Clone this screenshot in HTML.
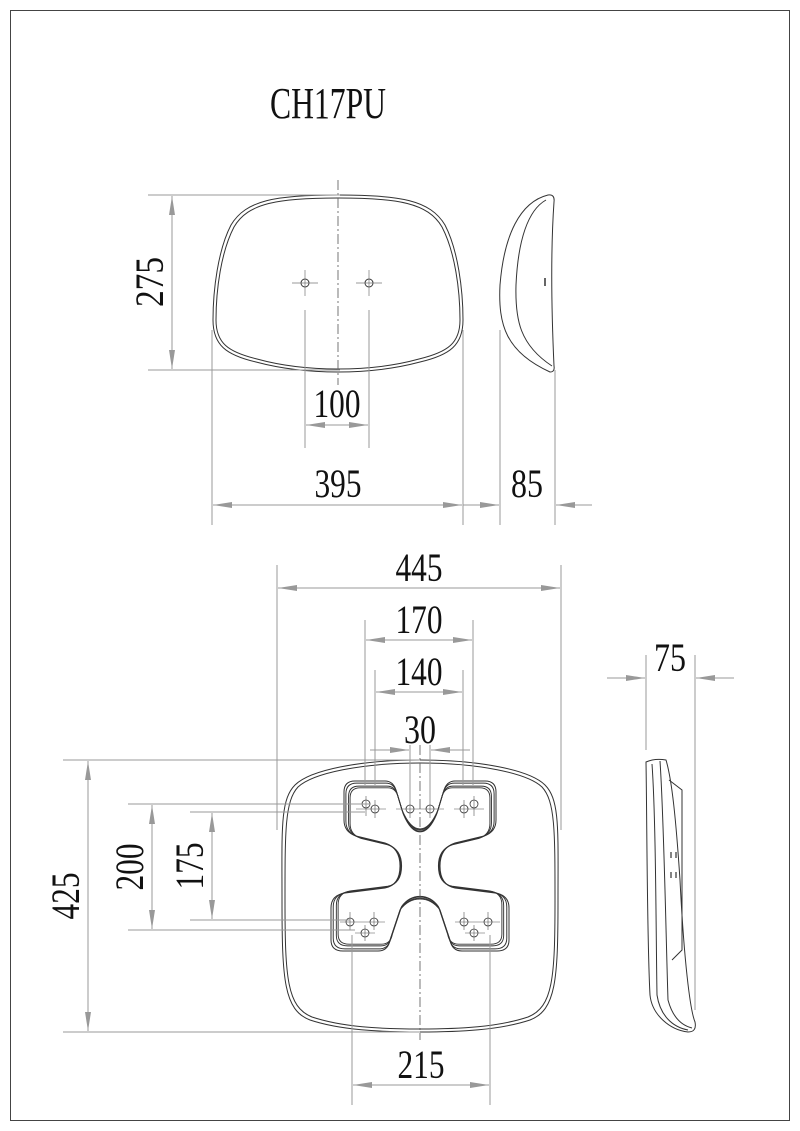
<!DOCTYPE html><html><head><style>body{margin:0;background:#fff}svg{display:block}text{font-family:"Liberation Serif",serif;fill:#111}</style></head><body>
<svg width="800" height="1131" viewBox="0 0 800 1131" xmlns="http://www.w3.org/2000/svg">
<defs>
<marker id="a" markerWidth="20" markerHeight="8" refX="19" refY="4" orient="auto" markerUnits="userSpaceOnUse"><path d="M0,1 L19,4 L0,7 Z" fill="#999"/></marker>
</defs>
<rect x="10.5" y="10.5" width="779" height="1110" fill="none" stroke="#444" stroke-width="1"/>
<text x="328" y="118" font-size="44" text-anchor="middle" textLength="116" lengthAdjust="spacingAndGlyphs">CH17PU</text>
<g fill="none" stroke="#333" stroke-width="1">
<path d="M338,195 C400,195 430,200 445,225 C458,250 463,290 463,320 C463,345 450,355 420,362 C390,370 360,372 338,372 C316,372 286,370 256,362 C226,355 213,345 213,320 C213,290 218,250 231,225 C246,200 276,195 338,195 Z"/>
<path d="M338,198 C398,198 428,203 442,227 C455,252 460,290 460,320 C460,343 448,352 419,359 C390,367 360,369 338,369 C316,369 286,367 257,359 C228,352 216,343 216,320 C216,290 221,252 234,227 C248,203 278,198 338,198 Z"/>
<circle cx="305" cy="283" r="4"/><circle cx="369" cy="283" r="4"/>
<path d="M292,283h26M305,270v26M356,283h26M369,270v26" stroke="#777" stroke-width=".7"/>
<path d="M548,195 C520,202 504,235 500,285 C498,325 506,352 550,372 Q555,372 554,366 C551,300 551,245 554,202 Q555,194 548,195 Z"/>
<path d="M546,200 C528,210 518,240 516,285 C515,320 520,345 552,366"/>
<path d="M545,278v8" stroke-width="1.5"/>
<path d="M420,760 C480,760 530,770 545,785 C560,800 558,830 558,900 C558,980 556,1010 530,1020 C500,1030 460,1032 420,1032 C380,1032 340,1030 310,1020 C284,1010 282,980 282,900 C282,830 280,800 295,785 C310,770 360,760 420,760 Z"/>
<path d="M420,763 C478,763 527,773 542,787 C555,801 555,830 555,900 C555,978 553,1007 528,1017 C498,1027 460,1029 420,1029 C380,1029 342,1027 312,1017 C287,1007 285,978 285,900 C285,830 285,801 298,787 C313,773 362,763 420,763 Z"/>
<g id="x"><path d="M355,781 L385,781 Q393,781 396,790 L402,810 Q410,829 420,829 Q430,829 438,810 L444,790 Q447,781 455,781 L485,781 Q496,781 496,792 L496,820 Q496,832 484,836 L455,843 Q440,848 440,866 Q440,885 455,888 L495,893 Q509,895 509,908 L509,940 Q509,951 497,951 L462,951 Q452,951 450,940 L440,910 Q432,899 420,899 Q408,899 400,910 L390,940 Q388,951 378,951 L343,951 Q331,951 331,940 L331,908 Q331,895 345,893 L385,888 Q400,885 400,866 Q400,848 385,843 L356,836 Q344,832 344,820 L344,792 Q344,781 355,781 Z"/></g>
<use href="#x" transform="translate(420,866) scale(0.975) translate(-420,-866)"/>
<use href="#x" transform="translate(420,866) scale(0.94) translate(-420,-866)"/>
<use href="#x" transform="translate(420,866) scale(0.92) translate(-420,-866)"/>
<g stroke-width=".8"><circle cx="366" cy="804" r="4"/><circle cx="375" cy="809" r="4"/><circle cx="410" cy="809" r="4"/><circle cx="430" cy="809" r="4"/><circle cx="464" cy="809" r="4"/><circle cx="474" cy="804" r="4"/>
<circle cx="350" cy="922" r="4"/><circle cx="374" cy="922" r="4"/><circle cx="365" cy="933" r="4"/><circle cx="464" cy="922" r="4"/><circle cx="488" cy="922" r="4"/><circle cx="474" cy="933" r="4"/></g>
<path stroke="#555" stroke-width=".6" d="M356,809h30M366,796v20M375,800v18M396,809h48M410,800v18M430,800v18M454,809h30M464,800v18M474,796v20M340,922h45M350,912v18M374,912v18M355,933h20M365,925v16M455,922h45M464,912v18M488,912v18M465,933h20M474,925v16"/>
<path d="M646,762 Q655,758 666,760 C672,780 676,820 680,880 C684,960 690,1010 695,1022 Q697,1032 688,1032 C670,1030 652,1015 650,995 C647,940 647,820 646,762 Z"/>
<path d="M652,764 C656,820 656,940 657,995 C660,1015 672,1027 688,1030"/>
<path d="M660,761 C664,820 666,940 668,1000 C672,1015 680,1025 692,1028"/>
<path d="M669,780 L682,790 L682,950 L672,960"/>
<path d="M671,852v6M676,852v6M671,872v6M676,872v6" stroke-width="1.2"/>
</g>
<g stroke="#999" stroke-width="1" fill="none">
<path d="M338,180V385M420,745V1040" stroke="#555" stroke-dasharray="10,3,2,3" stroke-width=".8"/>
<path d="M148,195H340M148,370H340M305,310V448M369,310V448M212,330V525M463,330V525M500,330V525M555,370V525"/>
<path d="M172,282V196" marker-end="url(#a)"/><path d="M172,282V369" marker-end="url(#a)"/>
<path d="M337,425H306" marker-end="url(#a)"/><path d="M337,425H368" marker-end="url(#a)"/>
<path d="M338,505H213" marker-end="url(#a)"/><path d="M338,505H462" marker-end="url(#a)"/>
<path d="M463,505H499" marker-end="url(#a)"/><path d="M592,505H556" marker-end="url(#a)"/>
<path d="M277,565V830M561,565V830M365,620V785M473,620V785M375,670V785M463,670V785M410,745V800M430,745V800"/>
<path d="M419,588H278" marker-end="url(#a)"/><path d="M419,588H560" marker-end="url(#a)"/>
<path d="M419,640H366" marker-end="url(#a)"/><path d="M419,640H472" marker-end="url(#a)"/>
<path d="M419,692H376" marker-end="url(#a)"/><path d="M419,692H462" marker-end="url(#a)"/>
<path d="M370,750H409" marker-end="url(#a)"/><path d="M470,750H431" marker-end="url(#a)"/>
<path d="M63,760H420M63,1032H420M128,804H370M128,930H355M190,812H365M190,920H350"/>
<path d="M88,896V761" marker-end="url(#a)"/><path d="M88,896V1031" marker-end="url(#a)"/>
<path d="M152,867V805" marker-end="url(#a)"/><path d="M152,867V929" marker-end="url(#a)"/>
<path d="M212,866V813" marker-end="url(#a)"/><path d="M212,866V919" marker-end="url(#a)"/>
<path d="M352,935V1105M490,935V1105"/>
<path d="M421,1085H353" marker-end="url(#a)"/><path d="M421,1085H489" marker-end="url(#a)"/>
<path d="M646,655V750M695,655V1010"/>
<path d="M607,678H645" marker-end="url(#a)"/><path d="M734,678H696" marker-end="url(#a)"/>
</g>
<g font-size="40">
<text transform="translate(163,282) rotate(-90)" text-anchor="middle" textLength="50" lengthAdjust="spacingAndGlyphs">275</text>
<text x="337" y="417" text-anchor="middle" textLength="47" lengthAdjust="spacingAndGlyphs">100</text>
<text x="338" y="497" text-anchor="middle" textLength="47" lengthAdjust="spacingAndGlyphs">395</text>
<text x="527" y="497" text-anchor="middle" textLength="32" lengthAdjust="spacingAndGlyphs">85</text>
<text x="419" y="581" text-anchor="middle" textLength="47" lengthAdjust="spacingAndGlyphs">445</text>
<text x="419" y="633" text-anchor="middle" textLength="47" lengthAdjust="spacingAndGlyphs">170</text>
<text x="419" y="685" text-anchor="middle" textLength="47" lengthAdjust="spacingAndGlyphs">140</text>
<text x="420" y="743" text-anchor="middle" textLength="32" lengthAdjust="spacingAndGlyphs">30</text>
<text x="670" y="671" text-anchor="middle" textLength="32" lengthAdjust="spacingAndGlyphs">75</text>
<text transform="translate(79,896) rotate(-90)" text-anchor="middle" textLength="47" lengthAdjust="spacingAndGlyphs">425</text>
<text transform="translate(143,867) rotate(-90)" text-anchor="middle" textLength="47" lengthAdjust="spacingAndGlyphs">200</text>
<text transform="translate(203,866) rotate(-90)" text-anchor="middle" textLength="47" lengthAdjust="spacingAndGlyphs">175</text>
<text x="421" y="1078" text-anchor="middle" textLength="47" lengthAdjust="spacingAndGlyphs">215</text>
</g>
</svg>
</body></html>
